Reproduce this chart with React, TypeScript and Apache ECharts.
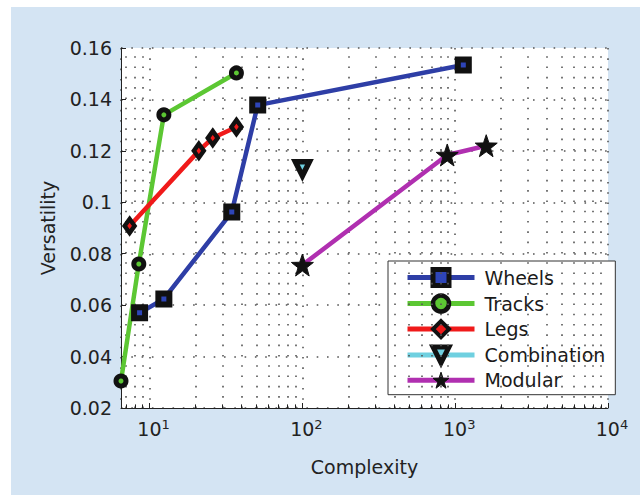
import React, { useEffect, useRef } from "react";
import * as echarts from "echarts";

const wheelsX = [8.6, 12.4, 34.5, 51, 1130];
const wheelsY = [0.057, 0.0624, 0.0962, 0.1378, 0.1534];
const tracksX = [6.5, 8.5, 12.4, 37];
const tracksY = [0.0305, 0.076, 0.134, 0.1503];
const legsX = [7.4, 21, 25.9, 37];
const legsY = [0.0908, 0.12, 0.125, 0.1293];
const combinationX = [100];
const combinationY = [0.113];
const modularX = [100, 887, 1596];
const modularY = [0.0756, 0.1184, 0.122];

const xMinorGrid = [7, 8, 9, 20, 30, 40, 50, 60, 70, 80, 90, 200, 300, 400, 500, 600, 700, 800, 900, 2000, 3000, 4000, 5000, 6000, 7000, 8000, 9000];
const xMin = 6.5;
const xMax = 10000;
const yMin = 0.02;
const yMax = 0.16;
const yStep = 0.02;

const FONT = "DejaVu Sans";
const STAR = "path://M0,-10 L2.35,-3.24 L9.51,-3.09 L3.8,1.24 L5.88,8.09 L0,4 L-5.88,8.09 L-3.8,1.24 L-9.51,-3.09 L-2.35,-3.24 Z";

const zip = (xs: number[], ys: number[]) => xs.map((x, i) => [x, ys[i]]);
const dotted = { type: [1.6, 8.7] as any, color: "#555", width: 1.6 };

export default function App() {
  const ref = useRef<HTMLDivElement>(null);
  useEffect(() => {
    if (!ref.current) return;
    const chart = echarts.init(ref.current, null, { renderer: "svg" });
    const mk = (name: string, xs: number[], ys: number[], color: string, symbol: string, size: any, fill: string, bw: number, extra: any = {}) => ({
      name,
      type: "line",
      data: zip(xs, ys),
      symbol,
      symbolSize: size,
      lineStyle: { color, width: 4.5 },
      itemStyle: { color: fill, borderColor: "#111", borderWidth: bw },
      z: 5,
      ...extra,
    });
    const legendItem = (name: string, bw: number) => ({
      name,
      itemStyle: { borderWidth: bw, borderColor: "#111" },
    });
    chart.setOption({
      animation: false,
      backgroundColor: "transparent",
      textStyle: { fontFamily: FONT },
      grid: { left: 121, right: 32, top: 48, bottom: 89, show: true, backgroundColor: "#ffffff", borderWidth: 0 },
      legend: {
        data: [
          legendItem("Wheels", 5),
          legendItem("Tracks", 4.5),
          legendItem("Legs", 4),
          legendItem("Combination", 5),
          legendItem("Modular", 1),
        ],
        orient: "vertical",
        left: 388,
        top: 261,
        backgroundColor: "#ffffff",
        borderColor: "#333",
        borderWidth: 1,
        borderRadius: 0,
        padding: [6, 10, 5, 17],
        itemWidth: 67,
        itemHeight: 20,
        itemGap: 5.3,
        lineStyle: { width: 5 },
        textStyle: { fontSize: 19, fontFamily: FONT, color: "#1a1a1a", padding: [0, 0, 0, 5] },
      },
      xAxis: {
        type: "log",
        logBase: 10,
        min: xMin,
        max: xMax,
        axisLine: { show: true, lineStyle: { color: "#222", width: 1 } },
        axisTick: { show: true, inside: true, length: 5, lineStyle: { color: "#222" } },
        splitLine: { show: true, lineStyle: dotted },
        axisLabel: {
          margin: 10,
          color: "#222",
          showMinLabel: false,
          formatter: (v: number) => {
            const e = Math.round(Math.log10(v));
            if (Math.abs(Math.pow(10, e) - v) > 1e-6 * v) return "";
            return `{b|10}{s|${e}}`;
          },
          rich: {
            b: { fontSize: 19, fontFamily: FONT, color: "#222", padding: [0, 0, 0, 8] },
            s: { fontSize: 13, fontFamily: FONT, color: "#222", padding: [0, 0, 9, 0] },
          },
        },
        name: "Complexity",
        nameLocation: "middle",
        nameGap: 49,
        nameTextStyle: { fontSize: 19, fontFamily: FONT, color: "#222" },
      },
      yAxis: {
        type: "value",
        min: yMin,
        max: yMax,
        interval: yStep,
        axisLine: { show: true, lineStyle: { color: "#222", width: 1 } },
        axisTick: { show: true, inside: true, length: 5, lineStyle: { color: "#222" } },
        splitLine: { show: true, lineStyle: dotted },
        axisLabel: { fontSize: 19, fontFamily: FONT, color: "#222", margin: 9 },
        name: "Versatility",
        nameLocation: "middle",
        nameGap: 64,
        nameTextStyle: { fontSize: 19, fontFamily: FONT, color: "#222" },
      },
      series: [
        {
          name: "grid-minor",
          type: "line",
          data: [],
          silent: true,
          z: 1,
          markLine: {
            silent: true,
            symbol: ["none", "none"],
            label: { show: false },
            lineStyle: dotted,
            emphasis: { disabled: true },
            data: [
              ...xMinorGrid.map((v) => ({ xAxis: v })),
              ...xMinorGrid.map((v) => [
                { coord: [v, yMin], lineStyle: { type: "solid", color: "#222", width: 1 } },
                { coord: [v, yMin + 0.0014] },
              ]),
            ],
          },
        },
        mk("Wheels", wheelsX, wheelsY, "#2e3ea6", "rect", 11, "#2e45b8", 6),
        mk("Tracks", tracksX, tracksY, "#5cc733", "circle", 10, "#5cc733", 5),
        mk("Legs", legsX, legsY, "#f01a1a", "diamond", [10, 14], "#f01a1a", 4.5),
        mk("Combination", combinationX, combinationY, "#6fd0e0", "triangle", 14, "#6fd0e0", 5.5, { symbolRotate: 180 }),
        mk("Modular", modularX, modularY, "#b02fb0", STAR, 22, "#111111", 1),
      ],
    });
    return () => chart.dispose();
  }, []);
  return (
    <div style={{ position: "absolute", left: 0, top: 0, width: 640, height: 497, background: "#ffffff" }}>
      <div style={{ position: "absolute", left: 11, top: 7, width: 629, height: 488, background: "#d4e4f3" }} />
      <div ref={ref} style={{ position: "absolute", left: 0, top: 0, width: 640, height: 497 }} />
    </div>
  );
}
